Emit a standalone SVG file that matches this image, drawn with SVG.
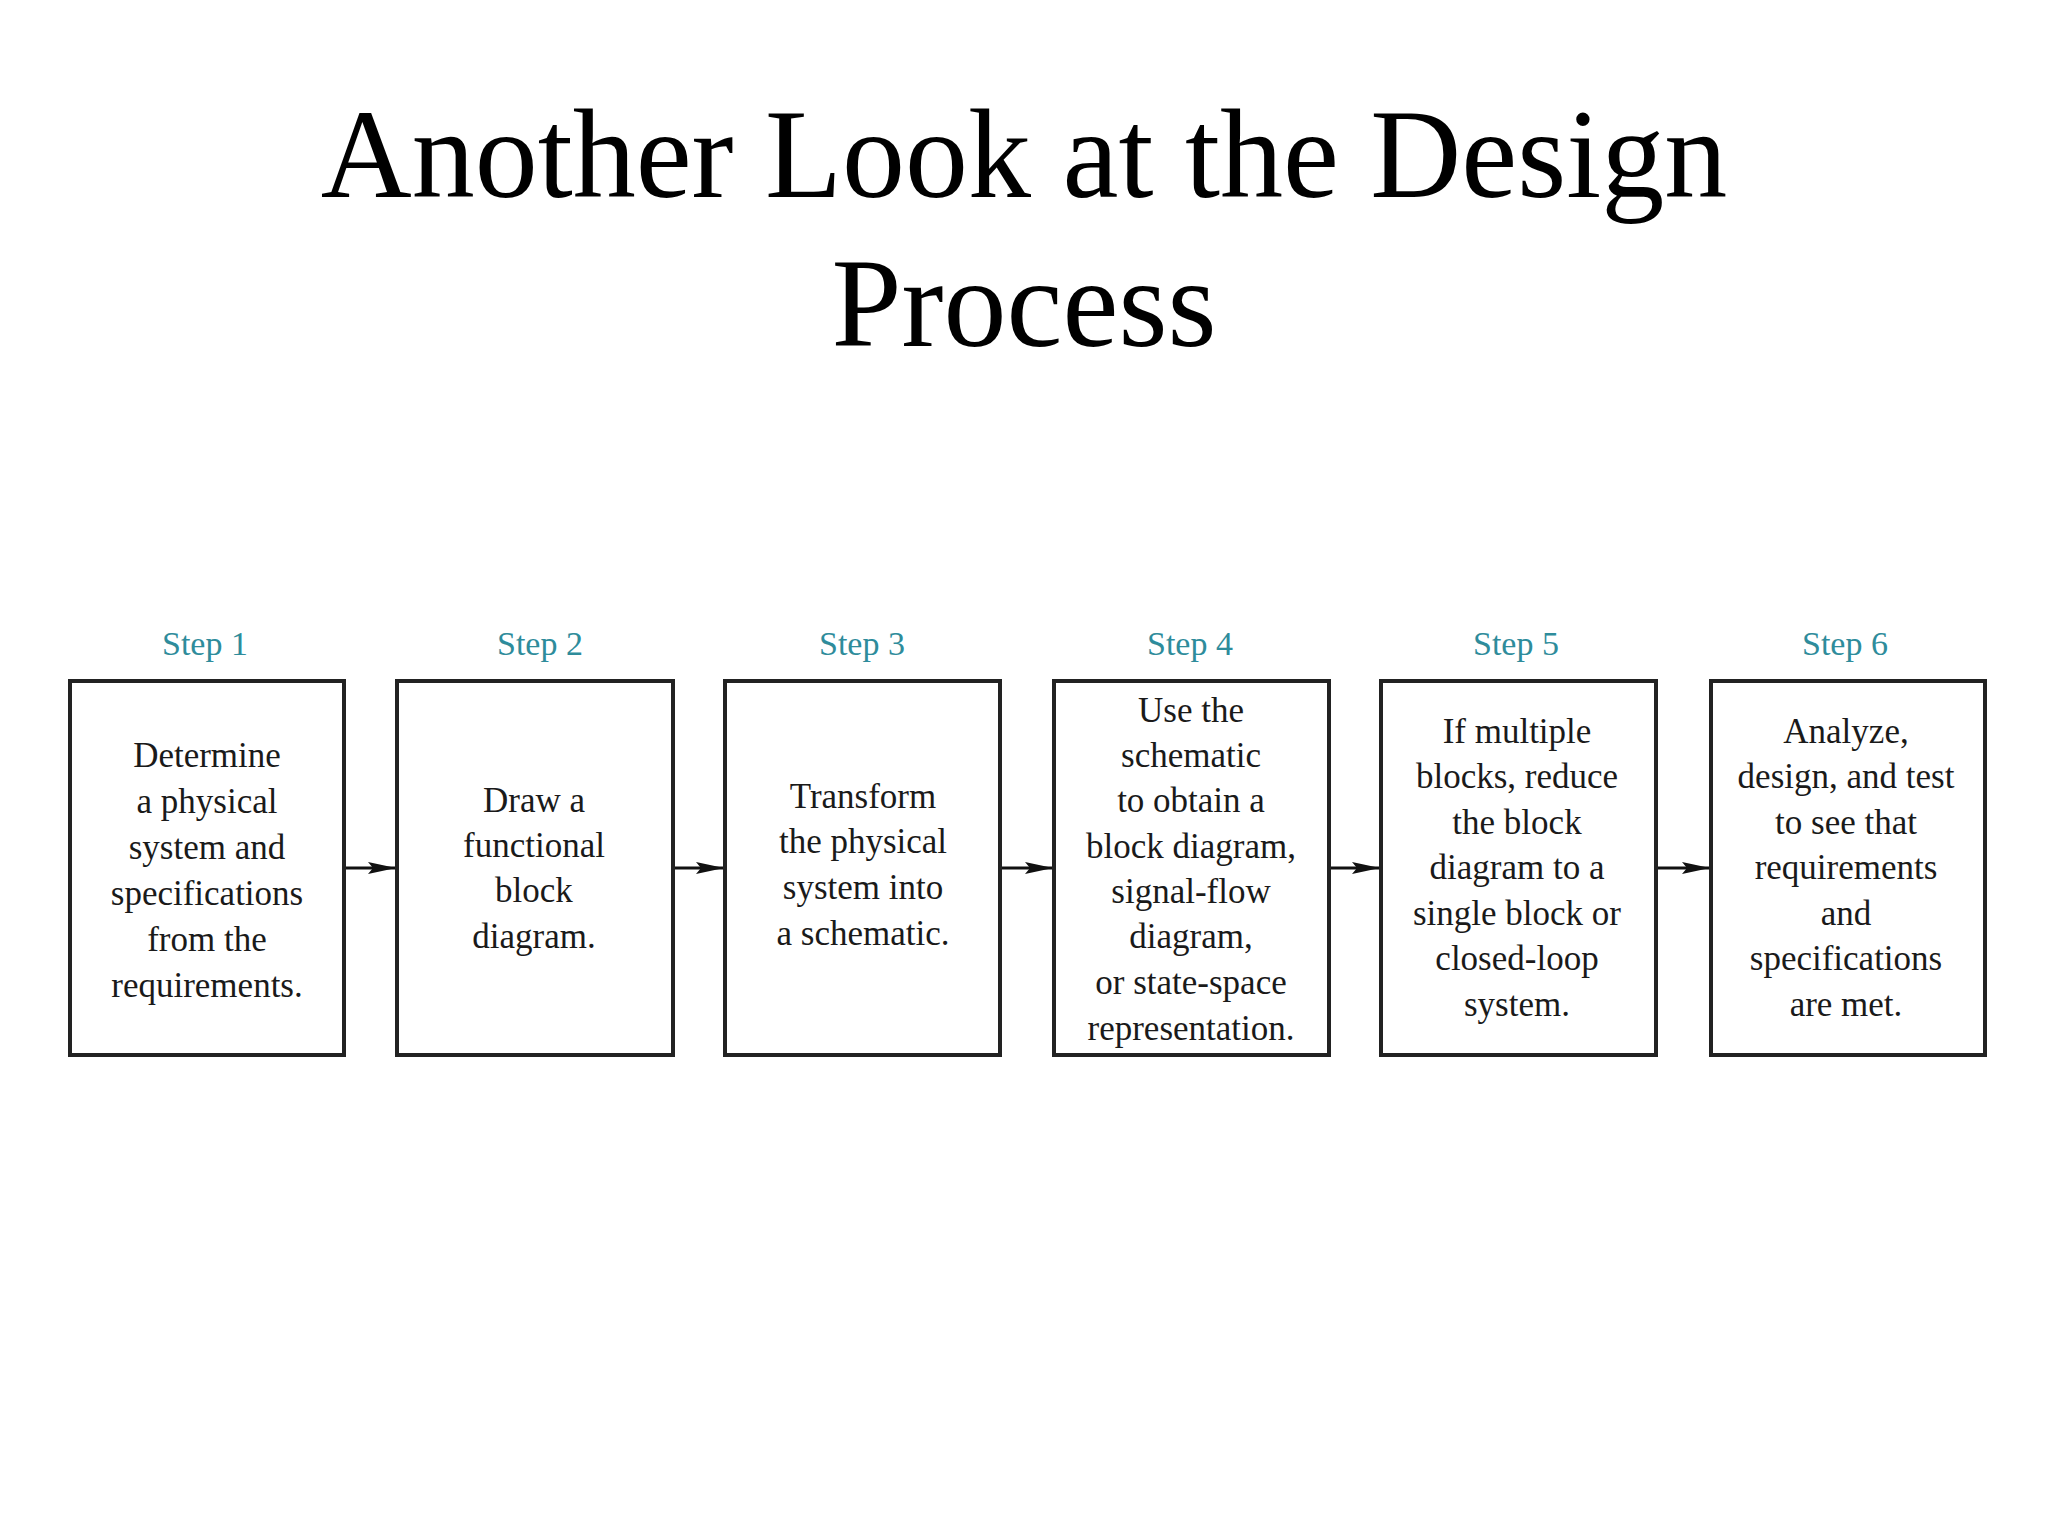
<svg xmlns="http://www.w3.org/2000/svg" width="2048" height="1536" viewBox="0 0 2048 1536">
<style>
.title{font-family:"Liberation Serif","Times New Roman",serif;font-size:126px;fill:#000;text-anchor:middle}
.step{font-family:"Liberation Serif","Times New Roman",serif;font-size:34px;fill:#2e8c9b;text-anchor:middle}
.body{font-family:"Liberation Serif","Times New Roman",serif;font-size:35px;fill:#1a1a1a;text-anchor:middle}
.box{fill:#fff;stroke:#222;stroke-width:4}
.conn{stroke:#111;stroke-width:3;fill:none}
</style>
<defs>
<marker id="ah" markerUnits="userSpaceOnUse" markerWidth="28" markerHeight="14" refX="28" refY="7" orient="auto">
<path d="M0,1 L28,7 L0,13 L5,7 z" fill="#111"/>
</marker>
</defs>
<rect width="2048" height="1536" fill="#fff"/>
<g id="title">
<text class="title" x="1024" y="197">Another Look at the Design</text>
<text class="title" x="1024" y="346">Process</text>
</g>
<g id="connectors">
<line class="conn" x1="345" y1="868" x2="396" y2="868" marker-end="url(#ah)"/>
<line class="conn" x1="673" y1="868" x2="724" y2="868" marker-end="url(#ah)"/>
<line class="conn" x1="1001" y1="868" x2="1053" y2="868" marker-end="url(#ah)"/>
<line class="conn" x1="1330" y1="868" x2="1380" y2="868" marker-end="url(#ah)"/>
<line class="conn" x1="1657" y1="868" x2="1710" y2="868" marker-end="url(#ah)"/>
</g>
<g id="step1">
<text class="step" x="205" y="655">Step 1</text>
<rect class="box" x="70" y="681" width="274" height="374"/>
<text class="body" x="207" y="767">Determine</text>
<text class="body" x="207" y="813">a physical</text>
<text class="body" x="207" y="859">system and</text>
<text class="body" x="207" y="905">specifications</text>
<text class="body" x="207" y="951">from the</text>
<text class="body" x="207" y="997">requirements.</text>
</g>
<g id="step2">
<text class="step" x="540" y="655">Step 2</text>
<rect class="box" x="397" y="681" width="276" height="374"/>
<text class="body" x="534" y="812">Draw a</text>
<text class="body" x="534" y="857">functional</text>
<text class="body" x="534" y="902">block</text>
<text class="body" x="534" y="948">diagram.</text>
</g>
<g id="step3">
<text class="step" x="862" y="655">Step 3</text>
<rect class="box" x="725" y="681" width="275" height="374"/>
<text class="body" x="863" y="808">Transform</text>
<text class="body" x="863" y="853">the physical</text>
<text class="body" x="863" y="899">system into</text>
<text class="body" x="863" y="945">a schematic.</text>
</g>
<g id="step4">
<text class="step" x="1190" y="655">Step 4</text>
<rect class="box" x="1054" y="681" width="275" height="374"/>
<text class="body" x="1191" y="722">Use the</text>
<text class="body" x="1191" y="767">schematic</text>
<text class="body" x="1191" y="812">to obtain a</text>
<text class="body" x="1191" y="858">block diagram,</text>
<text class="body" x="1191" y="903">signal-flow</text>
<text class="body" x="1191" y="948">diagram,</text>
<text class="body" x="1191" y="994">or state-space</text>
<text class="body" x="1191" y="1040">representation.</text>
</g>
<g id="step5">
<text class="step" x="1516" y="655">Step 5</text>
<rect class="box" x="1381" y="681" width="275" height="374"/>
<text class="body" x="1517" y="743">If multiple</text>
<text class="body" x="1517" y="788">blocks, reduce</text>
<text class="body" x="1517" y="834">the block</text>
<text class="body" x="1517" y="879">diagram to a</text>
<text class="body" x="1517" y="925">single block or</text>
<text class="body" x="1517" y="970">closed-loop</text>
<text class="body" x="1517" y="1016">system.</text>
</g>
<g id="step6">
<text class="step" x="1845" y="655">Step 6</text>
<rect class="box" x="1711" y="681" width="274" height="374"/>
<text class="body" x="1846" y="743">Analyze,</text>
<text class="body" x="1846" y="788">design, and test</text>
<text class="body" x="1846" y="834">to see that</text>
<text class="body" x="1846" y="879">requirements</text>
<text class="body" x="1846" y="925">and</text>
<text class="body" x="1846" y="970">specifications</text>
<text class="body" x="1846" y="1016">are met.</text>
</g>
</svg>
